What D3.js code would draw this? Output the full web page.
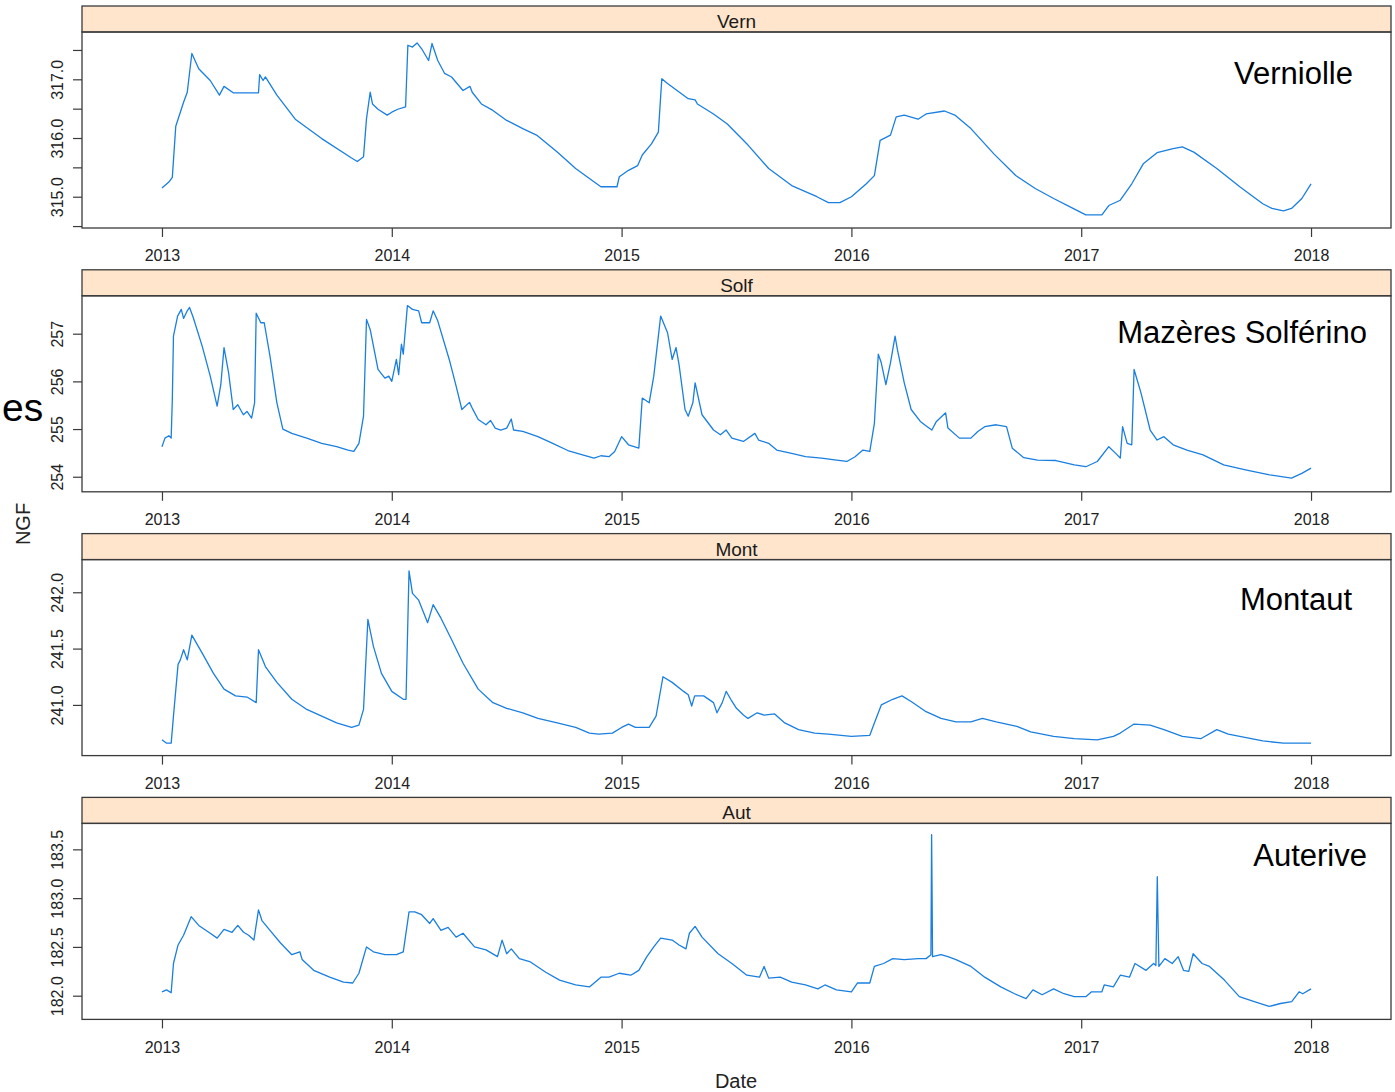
<!DOCTYPE html>
<html>
<head>
<meta charset="utf-8">
<script src="https://cdn.jsdelivr.net/npm/d3@7"></script>
<style>
    body { margin: 0; background: #fff; }
    text { font-family: "Liberation Sans", Arial, sans-serif; }
</style>
</head>
<body>
<div id="chart"></div>
<script>
// station codes (strip labels) and full names (annotations)
const stations = ["Vern", "Solf", "Mont", "Aut"];
const stationNames = ["Verniolle", "Mazères Solférino", "Montaut", "Auterive"];
const years = [2013, 2014, 2015, 2016, 2017, 2018];

// [decimal year, level NGF]
const vern = [
    [2013.00, 315.15], [2013.03, 315.25], [2013.045, 315.33], [2013.06, 316.2], [2013.094, 316.61], [2013.11, 316.78],
    [2013.13, 317.44], [2013.16, 317.18], [2013.21, 316.98], [2013.25, 316.73], [2013.27, 316.88], [2013.31, 316.77],
    [2013.42, 316.77], [2013.425, 317.08], [2013.44, 316.98], [2013.45, 317.04], [2013.5, 316.73], [2013.58, 316.32],
    [2013.695, 315.99], [2013.825, 315.66], [2013.85, 315.6], [2013.877, 315.68], [2013.89, 316.33], [2013.906, 316.78],
    [2013.916, 316.58], [2013.94, 316.49], [2013.98, 316.39], [2014.0, 316.44], [2014.026, 316.49], [2014.06, 316.53],
    [2014.07, 317.58], [2014.09, 317.55], [2014.11, 317.62], [2014.13, 317.52], [2014.16, 317.32], [2014.175, 317.61],
    [2014.2, 317.32], [2014.23, 317.1], [2014.26, 317.04], [2014.31, 316.81], [2014.34, 316.88], [2014.35, 316.78],
    [2014.39, 316.58], [2014.44, 316.47], [2014.5, 316.3], [2014.57, 316.16], [2014.63, 316.05], [2014.72, 315.76],
    [2014.8, 315.48], [2014.86, 315.31], [2014.91, 315.17], [2014.98, 315.17], [2014.99, 315.34], [2015.03, 315.45],
    [2015.07, 315.53], [2015.09, 315.71], [2015.13, 315.9], [2015.16, 316.1], [2015.175, 317.01], [2015.2, 316.93],
    [2015.29, 316.67], [2015.32, 316.65], [2015.33, 316.58], [2015.4, 316.41], [2015.46, 316.24], [2015.55, 315.88],
    [2015.64, 315.48], [2015.74, 315.19], [2015.85, 315.0], [2015.9, 314.9], [2015.95, 314.9], [2016.0, 315.0],
    [2016.065, 315.22], [2016.1, 315.36], [2016.125, 315.96], [2016.17, 316.05], [2016.195, 316.36], [2016.23, 316.39],
    [2016.29, 316.32], [2016.325, 316.41], [2016.405, 316.46], [2016.45, 316.39], [2016.52, 316.16], [2016.62, 315.73],
    [2016.715, 315.36], [2016.8, 315.14], [2016.88, 314.97], [2016.96, 314.81], [2017.02, 314.69], [2017.09, 314.69],
    [2017.12, 314.85], [2017.17, 314.94], [2017.22, 315.22], [2017.27, 315.56], [2017.33, 315.75], [2017.4, 315.82],
    [2017.44, 315.85], [2017.49, 315.76], [2017.59, 315.48], [2017.69, 315.17], [2017.79, 314.88], [2017.83, 314.8],
    [2017.88, 314.76], [2017.915, 314.8], [2017.96, 314.97], [2018.0, 315.22]
];
const solf = [
    [2013.0, 254.63], [2013.013, 254.81], [2013.03, 254.86], [2013.04, 254.81], [2013.045, 255.62], [2013.05, 256.95],
    [2013.068, 257.37], [2013.084, 257.51], [2013.094, 257.32], [2013.11, 257.48], [2013.12, 257.55], [2013.136, 257.34],
    [2013.175, 256.74], [2013.21, 256.11], [2013.24, 255.48], [2013.256, 255.93], [2013.27, 256.71], [2013.29, 256.18],
    [2013.31, 255.41], [2013.33, 255.51], [2013.354, 255.3], [2013.37, 255.37], [2013.39, 255.23], [2013.403, 255.55],
    [2013.41, 257.43], [2013.43, 257.23], [2013.445, 257.23], [2013.47, 256.53], [2013.5, 255.55], [2013.526, 255.0],
    [2013.565, 254.91], [2013.63, 254.81], [2013.695, 254.7], [2013.76, 254.63], [2013.81, 254.56], [2013.835, 254.53],
    [2013.857, 254.7], [2013.877, 255.27], [2013.89, 257.3], [2013.906, 257.09], [2013.94, 256.25], [2013.97, 256.07],
    [2013.987, 256.11], [2014.0, 256.0], [2014.02, 256.46], [2014.03, 256.14], [2014.042, 256.78], [2014.05, 256.57],
    [2014.068, 257.59], [2014.09, 257.51], [2014.117, 257.48], [2014.13, 257.23], [2014.165, 257.23], [2014.18, 257.48],
    [2014.2, 257.27], [2014.25, 256.46], [2014.28, 255.9], [2014.305, 255.41], [2014.338, 255.56], [2014.35, 255.44],
    [2014.376, 255.2], [2014.41, 255.09], [2014.43, 255.18], [2014.45, 255.02], [2014.474, 254.98], [2014.5, 255.02],
    [2014.52, 255.21], [2014.53, 254.98], [2014.57, 254.95], [2014.636, 254.84], [2014.7, 254.7], [2014.766, 254.55],
    [2014.83, 254.46], [2014.88, 254.39], [2014.91, 254.44], [2014.945, 254.42], [2014.97, 254.53], [2015.0, 254.84],
    [2015.03, 254.67], [2015.075, 254.6], [2015.09, 255.65], [2015.12, 255.55], [2015.14, 256.11], [2015.17, 257.37],
    [2015.2, 257.02], [2015.22, 256.46], [2015.237, 256.71], [2015.25, 256.35], [2015.276, 255.41], [2015.29, 255.27],
    [2015.31, 255.55], [2015.32, 255.97], [2015.35, 255.3], [2015.4, 254.98], [2015.43, 254.88], [2015.455, 254.98],
    [2015.48, 254.81], [2015.53, 254.74], [2015.58, 254.91], [2015.596, 254.77], [2015.64, 254.7], [2015.675, 254.56],
    [2015.74, 254.49], [2015.8, 254.42], [2015.87, 254.39], [2015.935, 254.35], [2015.98, 254.32], [2016.016, 254.42],
    [2016.05, 254.56], [2016.08, 254.53], [2016.1, 255.12], [2016.117, 256.57], [2016.13, 256.39], [2016.15, 255.93],
    [2016.17, 256.39], [2016.19, 256.95], [2016.2, 256.67], [2016.23, 255.97], [2016.26, 255.41], [2016.3, 255.16],
    [2016.33, 255.05], [2016.35, 254.98], [2016.37, 255.16], [2016.41, 255.34], [2016.42, 255.02], [2016.47, 254.81],
    [2016.52, 254.81], [2016.55, 254.95], [2016.58, 255.05], [2016.63, 255.09], [2016.675, 255.05], [2016.7, 254.6],
    [2016.75, 254.4], [2016.81, 254.35], [2016.89, 254.34], [2016.97, 254.25], [2017.02, 254.21], [2017.07, 254.32],
    [2017.12, 254.63], [2017.15, 254.49], [2017.17, 254.39], [2017.18, 255.05], [2017.2, 254.7], [2017.22, 254.67],
    [2017.23, 256.25], [2017.26, 255.76], [2017.3, 254.98], [2017.33, 254.77], [2017.36, 254.84], [2017.4, 254.67],
    [2017.46, 254.56], [2017.53, 254.46], [2017.62, 254.25], [2017.72, 254.14], [2017.82, 254.04], [2017.915, 253.97],
    [2017.96, 254.07], [2018.0, 254.18]
];
const mont = [
    [2013.0, 240.69], [2013.02, 240.66], [2013.04, 240.66], [2013.05, 240.9], [2013.07, 241.36], [2013.08, 241.4],
    [2013.094, 241.49], [2013.11, 241.4], [2013.13, 241.62], [2013.175, 241.46], [2013.224, 241.28], [2013.27, 241.14],
    [2013.32, 241.08], [2013.37, 241.07], [2013.41, 241.02], [2013.42, 241.49], [2013.45, 241.34], [2013.5, 241.2],
    [2013.565, 241.05], [2013.63, 240.96], [2013.695, 240.9], [2013.76, 240.84], [2013.825, 240.8], [2013.857, 240.82],
    [2013.877, 240.96], [2013.896, 241.76], [2013.92, 241.52], [2013.955, 241.28], [2014.0, 241.12], [2014.05, 241.05],
    [2014.062, 241.05], [2014.075, 242.19], [2014.09, 241.99], [2014.117, 241.93], [2014.156, 241.73], [2014.18, 241.89],
    [2014.214, 241.77], [2014.26, 241.58], [2014.31, 241.37], [2014.376, 241.14], [2014.44, 241.02], [2014.5, 240.97],
    [2014.57, 240.93], [2014.636, 240.88], [2014.72, 240.84], [2014.8, 240.8], [2014.86, 240.75], [2014.9, 240.74],
    [2014.96, 240.75], [2015.0, 240.8], [2015.03, 240.83], [2015.06, 240.8], [2015.12, 240.8], [2015.15, 240.9],
    [2015.18, 241.25], [2015.22, 241.2], [2015.27, 241.12], [2015.29, 241.09], [2015.305, 240.99], [2015.318, 241.08],
    [2015.357, 241.08], [2015.4, 241.02], [2015.415, 240.93], [2015.438, 241.02], [2015.455, 241.12], [2015.475, 241.05],
    [2015.5, 240.97], [2015.53, 240.91], [2015.55, 240.88], [2015.59, 240.93], [2015.62, 240.91], [2015.666, 240.92],
    [2015.71, 240.84], [2015.77, 240.78], [2015.84, 240.75], [2015.9, 240.74], [2016.0, 240.72], [2016.08, 240.73],
    [2016.1, 240.84], [2016.13, 241.0], [2016.18, 241.05], [2016.22, 241.08], [2016.26, 241.03], [2016.325, 240.94],
    [2016.39, 240.88], [2016.455, 240.85], [2016.52, 240.85], [2016.57, 240.88], [2016.63, 240.85], [2016.72, 240.81],
    [2016.78, 240.76], [2016.88, 240.72], [2016.97, 240.7], [2017.07, 240.69], [2017.14, 240.72], [2017.17, 240.75],
    [2017.23, 240.83], [2017.3, 240.82], [2017.36, 240.78], [2017.44, 240.72], [2017.52, 240.7], [2017.59, 240.78],
    [2017.64, 240.74], [2017.69, 240.72], [2017.79, 240.68], [2017.88, 240.66], [2018.0, 240.66]
];
const aut = [
    [2013.0, 182.04], [2013.02, 182.06], [2013.04, 182.03], [2013.05, 182.33], [2013.07, 182.52], [2013.094, 182.62],
    [2013.127, 182.81], [2013.16, 182.72], [2013.21, 182.64], [2013.24, 182.59], [2013.27, 182.68], [2013.305, 182.65],
    [2013.33, 182.72], [2013.355, 182.65], [2013.377, 182.62], [2013.4, 182.57], [2013.42, 182.88], [2013.435, 182.77],
    [2013.47, 182.67], [2013.516, 182.54], [2013.565, 182.42], [2013.6, 182.45], [2013.61, 182.37], [2013.66, 182.26],
    [2013.73, 182.19], [2013.79, 182.14], [2013.83, 182.13], [2013.857, 182.23], [2013.89, 182.5], [2013.92, 182.45],
    [2013.97, 182.42], [2014.02, 182.42], [2014.05, 182.45], [2014.075, 182.86], [2014.1, 182.86], [2014.13, 182.83],
    [2014.165, 182.74], [2014.18, 182.79], [2014.214, 182.67], [2014.245, 182.7], [2014.28, 182.6], [2014.31, 182.64],
    [2014.36, 182.5], [2014.41, 182.47], [2014.46, 182.4], [2014.48, 182.57], [2014.5, 182.43], [2014.52, 182.48],
    [2014.555, 182.38], [2014.6, 182.35], [2014.67, 182.24], [2014.73, 182.16], [2014.8, 182.11], [2014.86, 182.09],
    [2014.91, 182.19], [2014.945, 182.19], [2014.99, 182.23], [2015.04, 182.21], [2015.075, 182.26], [2015.11, 182.4],
    [2015.14, 182.5], [2015.17, 182.59], [2015.22, 182.57], [2015.25, 182.52], [2015.28, 182.48], [2015.295, 182.64],
    [2015.32, 182.71], [2015.35, 182.6], [2015.42, 182.43], [2015.48, 182.33], [2015.545, 182.21], [2015.6, 182.19],
    [2015.62, 182.3], [2015.64, 182.18], [2015.69, 182.19], [2015.74, 182.14], [2015.8, 182.11], [2015.854, 182.07],
    [2015.885, 182.11], [2015.935, 182.06], [2016.0, 182.04], [2016.026, 182.13], [2016.08, 182.13], [2016.1, 182.3],
    [2016.14, 182.33], [2016.18, 182.38], [2016.23, 182.37], [2016.29, 182.38], [2016.325, 182.38], [2016.346, 182.42],
    [2016.349, 183.65], [2016.351, 183.08], [2016.353, 182.4], [2016.39, 182.42], [2016.42, 182.4], [2016.455, 182.37],
    [2016.52, 182.3], [2016.58, 182.19], [2016.65, 182.09], [2016.71, 182.02], [2016.76, 181.97], [2016.79, 182.06],
    [2016.83, 182.01], [2016.88, 182.07], [2016.925, 182.02], [2016.97, 181.99], [2017.02, 181.99], [2017.045, 182.04],
    [2017.09, 182.04], [2017.1, 182.11], [2017.14, 182.09], [2017.17, 182.21], [2017.21, 182.19], [2017.234, 182.33],
    [2017.282, 182.26], [2017.315, 182.33], [2017.325, 182.31], [2017.331, 183.22], [2017.334, 182.81], [2017.338, 182.3],
    [2017.364, 182.38], [2017.396, 182.33], [2017.422, 182.4], [2017.445, 182.26], [2017.468, 182.25], [2017.487, 182.43],
    [2017.526, 182.33], [2017.558, 182.3], [2017.623, 182.16], [2017.688, 181.99], [2017.753, 181.94], [2017.818, 181.89],
    [2017.867, 181.92], [2017.916, 181.94], [2017.948, 182.04], [2017.964, 182.02], [2018.0, 182.07]
];

// y axis extents, tick positions and labelled ticks per panel
const yRanges = [[314.467, 317.806], [253.684, 257.795], [240.55, 242.29], [181.757, 183.766]];
const yTicks = [[314.5, 315, 315.5, 316, 316.5, 317, 317.5], [254, 255, 256, 257], [241, 241.5, 242], [182, 182.5, 183, 183.5]];
const yLabelled = [[315, 316, 317], [254, 255, 256, 257], [241, 241.5, 242], [182, 182.5, 183, 183.5]];
const yFormats = [".1f", "d", ".1f", ".1f"];
const xRange = [2012.652, 2018.348];

(function () {
    const width = 1395, height = 1092;
    const series = [vern, solf, mont, aut];
    const svg = d3.select("#chart")
        .append("svg")
        .attr("width", width)
        .attr("height", height);

    const left = 82, right = 1391;
    const top0 = 6, step = 263.8, stripH = 26, plotH = 196;
    const lineColor = "#1a7fe0", frame = "#3a3a3a";
    // annotation placement (anchor end x, baseline offset from plot top)
    const annot = [[1353, 52], [1367, 47], [1352, 50], [1367, 43]];

    const x = d3.scaleLinear()
        .domain(xRange)
        .range([left, right]);

    stations.forEach((st, i) => {
        const stripTop = top0 + i * step;
        const plotTop = stripTop + stripH;
        const plotBottom = plotTop + plotH;
        const y = d3.scaleLinear()
            .domain(yRanges[i])
            .range([plotBottom, plotTop]);
        const g = svg.append("g");

        // strip
        g.append("rect")
            .attr("x", left)
            .attr("y", stripTop)
            .attr("width", right - left)
            .attr("height", stripH)
            .attr("fill", "#ffe5cc")
            .attr("stroke", frame)
            .attr("stroke-width", 1.3);
        g.append("text")
            .text(st)
            .attr("x", (left + right) / 2)
            .attr("y", stripTop + 22)
            .attr("text-anchor", "middle")
            .attr("font-size", 19)
            .attr("fill", "#1a1a1a");

        // panel box
        g.append("rect")
            .attr("x", left)
            .attr("y", plotTop)
            .attr("width", right - left)
            .attr("height", plotH)
            .attr("fill", "none")
            .attr("stroke", frame)
            .attr("stroke-width", 1.3);

        // y axis
        const fmt = d3.format(yFormats[i]);
        g.append("g")
            .attr("transform", `translate(${left},0)`)
            .call(d3.axisLeft(y)
                .tickValues(yTicks[i])
                .tickSize(9)
                .tickFormat(d => yLabelled[i].includes(d) ? fmt(d) : ""))
            .call(ax => {
                ax.select(".domain").remove();
                ax.selectAll("line").attr("stroke", frame).attr("stroke-width", 1.2);
                ax.selectAll("text")
                    .attr("x", 0)
                    .attr("dy", 0)
                    .attr("text-anchor", "middle")
                    .attr("transform", "translate(-19,0) rotate(-90)")
                    .attr("font-size", 16)
                    .attr("font-family", "Liberation Sans, Arial, sans-serif")
                    .attr("fill", "#222");
            });

        // x axis
        g.append("g")
            .attr("transform", `translate(0,${plotBottom})`)
            .call(d3.axisBottom(x)
                .tickValues(years)
                .tickSize(9)
                .tickPadding(13)
                .tickFormat(d3.format("d")))
            .call(ax => {
                ax.select(".domain").remove();
                ax.selectAll("line").attr("stroke", frame).attr("stroke-width", 1.2);
                ax.selectAll("text")
                    .attr("font-size", 16)
                    .attr("font-family", "Liberation Sans, Arial, sans-serif")
                    .attr("fill", "#222");
            });

        // series
        g.append("path")
            .datum(series[i])
            .attr("fill", "none")
            .attr("stroke", lineColor)
            .attr("stroke-width", 1.3)
            .attr("stroke-linejoin", "round")
            .attr("d", d3.line()
                .x(d => x(d[0]))
                .y(d => y(d[1])));

        // station name
        g.append("text")
            .text(stationNames[i])
            .attr("x", annot[i][0])
            .attr("y", plotTop + annot[i][1])
            .attr("text-anchor", "end")
            .attr("font-size", 31)
            .attr("fill", "#000");
    });

    // axis titles
    svg.append("text")
        .text("NGF")
        .attr("text-anchor", "middle")
        .attr("font-size", 20)
        .attr("fill", "#222")
        .attr("transform", "translate(30,524) rotate(-90)");
    svg.append("text")
        .text("Date")
        .attr("x", 736)
        .attr("y", 1088)
        .attr("text-anchor", "middle")
        .attr("font-size", 20)
        .attr("fill", "#222");

    // partly hidden title on the left edge
    svg.append("text")
        .text("es")
        .attr("x", 2)
        .attr("y", 421)
        .attr("text-anchor", "start")
        .attr("font-size", 39)
        .attr("fill", "#000");
})();
</script>
</body>
</html>
